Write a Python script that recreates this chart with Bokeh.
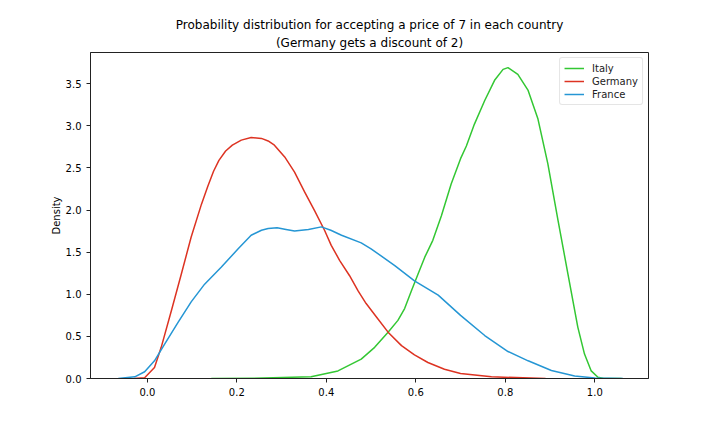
from bokeh.plotting import figure
from bokeh.models import FixedTicker, PrintfTickFormatter, Range1d, Legend, LegendItem, Title
from bokeh.embed import file_html
from bokeh.resources import INLINE

italy_x = [0.143, 0.26, 0.366, 0.426, 0.478, 0.508, 0.538, 0.56, 0.575, 0.59, 0.605, 0.62, 0.638,
           0.657, 0.679, 0.70, 0.713, 0.731, 0.754, 0.776, 0.795, 0.806, 0.828, 0.851, 0.873,
           0.895, 0.918, 0.94, 0.962, 0.977, 0.992, 1.007, 1.02, 1.06]
italy_y = [0.0, 0.005, 0.02, 0.09, 0.23, 0.37, 0.55, 0.69, 0.83, 1.04, 1.24, 1.44, 1.64,
           1.93, 2.31, 2.61, 2.76, 3.02, 3.30, 3.54, 3.67, 3.69, 3.61, 3.42, 3.08,
           2.55, 1.87, 1.24, 0.61, 0.29, 0.09, 0.015, 0.0, 0.0]

germany_x = [-0.03, -0.006, 0.016, 0.031, 0.054, 0.076, 0.098, 0.121, 0.135, 0.148, 0.16, 0.175,
             0.19, 0.21, 0.232, 0.255, 0.27, 0.284, 0.307, 0.329, 0.352, 0.374, 0.396, 0.411,
             0.43, 0.452, 0.471, 0.489, 0.515, 0.538, 0.568, 0.597, 0.627, 0.664, 0.70, 0.769, 0.89]
germany_y = [0.0, 0.01, 0.13, 0.37, 0.81, 1.24, 1.68, 2.07, 2.28, 2.46, 2.59, 2.70,
             2.77, 2.83, 2.86, 2.85, 2.82, 2.77, 2.63, 2.45, 2.21, 1.99, 1.76, 1.58,
             1.40, 1.22, 1.04, 0.89, 0.71, 0.55, 0.39, 0.28, 0.19, 0.11, 0.06, 0.02, 0.0]

france_x = [-0.065, -0.028, -0.006, 0.016, 0.039, 0.069, 0.098, 0.128, 0.165, 0.203, 0.232, 0.255,
            0.27, 0.29, 0.31, 0.329, 0.36, 0.389, 0.41, 0.434, 0.478, 0.50, 0.553, 0.597, 0.65,
            0.70, 0.754, 0.806, 0.851, 0.903, 0.955, 1.0, 1.063]
france_y = [0.0, 0.02, 0.08, 0.21, 0.41, 0.67, 0.91, 1.12, 1.32, 1.54, 1.70, 1.76,
            1.78, 1.79, 1.77, 1.75, 1.77, 1.80, 1.76, 1.70, 1.61, 1.54, 1.34, 1.16, 0.99,
            0.75, 0.51, 0.32, 0.21, 0.095, 0.03, 0.005, 0.0]

x_ticks = [0.0, 0.2, 0.4, 0.6, 0.8, 1.0]
y_ticks = [0.0, 0.5, 1.0, 1.5, 2.0, 2.5, 3.0, 3.5]

title_lines = ["Probability distribution for accepting a price of 7 in each country",
               "(Germany gets a discount of 2)"]

FONT = "DejaVu Sans"

p = figure(width=720, height=432, output_backend="svg", toolbar_location=None,
           x_range=Range1d(-0.127, 1.12), y_range=Range1d(0, 3.87),
           min_border_left=90, min_border_right=72, min_border_top=52, min_border_bottom=54)

p.title.text = title_lines[0]
p.title.align = "center"
p.title.text_font = FONT
p.title.text_font_size = "12px"
p.title.text_font_style = "normal"
p.title.text_color = "black"
p.title.standoff = 0
p.add_layout(Title(text=title_lines[1], align="center", text_font=FONT, text_font_size="12px",
                   text_font_style="normal", text_color="black", standoff=5), "above")

p.xgrid.visible = False
p.ygrid.visible = False
p.outline_line_color = "#222222"
p.outline_line_width = 1

for ax in (p.xaxis, p.yaxis):
    ax.major_label_text_font = FONT
    ax.major_label_text_font_size = "10px"
    ax.major_label_text_color = "black"
    ax.axis_line_color = "#222222"
    ax.major_tick_line_color = "#222222"
    ax.major_tick_in = 0
    ax.major_tick_out = 4
    ax.minor_tick_line_color = None
    ax.formatter = PrintfTickFormatter(format="%.1f")

p.xaxis.ticker = FixedTicker(ticks=x_ticks)
p.yaxis.ticker = FixedTicker(ticks=y_ticks)
p.yaxis.axis_label = "Density"
p.yaxis.axis_label_text_font = FONT
p.yaxis.axis_label_text_font_size = "10px"
p.yaxis.axis_label_text_font_style = "normal"
p.yaxis.axis_label_text_color = "black"
p.yaxis.axis_label_standoff = 1

r_it = p.line(italy_x, italy_y, line_color="#33c733", line_width=1.5, line_join="round")
r_de = p.line(germany_x, germany_y, line_color="#dd3322", line_width=1.5, line_join="round")
r_fr = p.line(france_x, france_y, line_color="#2596d4", line_width=1.5, line_join="round")

legend = Legend(items=[LegendItem(label="Italy", renderers=[r_it]),
                       LegendItem(label="Germany", renderers=[r_de]),
                       LegendItem(label="France", renderers=[r_fr])],
                location="top_right")
legend.label_text_font = FONT
legend.label_text_font_size = "10px"
legend.label_text_color = "#222222"
legend.border_line_color = "#cccccc"
legend.border_radius = 3
legend.margin = 5
legend.padding = 4
legend.spacing = 1
legend.glyph_width = 20
legend.glyph_height = 12
legend.label_height = 12
legend.label_standoff = 8
p.add_layout(legend)

open("out.html", "w").write(file_html(p, INLINE))
